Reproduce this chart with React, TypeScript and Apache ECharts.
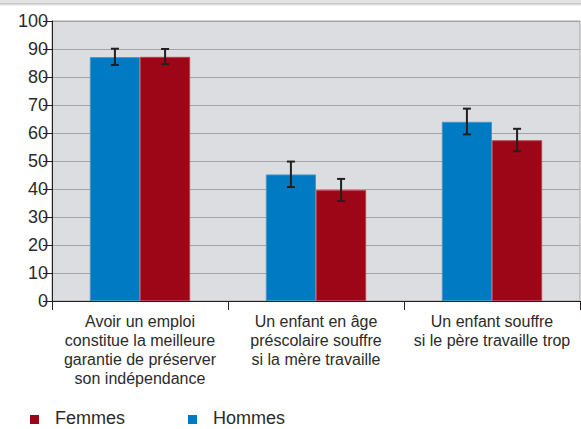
import React, { useEffect, useRef } from "react";
import * as echarts from "echarts";

const categories = [
  "Avoir un emploi\nconstitue la meilleure\ngarantie de préserver\nson indépendance",
  "Un enfant en âge\npréscolaire souffre\nsi la mère travaille",
  "Un enfant souffre\nsi le père travaille trop",
];
const hommes = [87.1, 45.2, 64.0];
const hommesLow = [84.3, 40.7, 59.5];
const hommesHigh = [90.1, 49.8, 68.7];
const femmes = [87.2, 39.6, 57.4];
const femmesLow = [84.6, 35.7, 53.5];
const femmesHigh = [90.0, 43.6, 61.5];
const legendLabels = ["Femmes", "Hommes"];

const BLUE = "#007ac3";
const RED = "#9c0617";
const FONT = "'Liberation Sans', Arial, Helvetica, sans-serif";
const GAP = 0.43;

function errorSeries(name: string, low: number[], high: number[], side: number) {
  return {
    name: name + " err",
    type: "custom",
    z: 10,
    silent: true,
    data: low.map((l, i) => [i, l, high[i]]),
    encode: { x: 0, y: [1, 2] },
    renderItem: (params: any, api: any) => {
      const i = api.value(0);
      const lo = api.coord([i, api.value(1)]);
      const hi = api.coord([i, api.value(2)]);
      const catW = api.size([1, 0])[0];
      const barW = (catW * (1 - GAP)) / 2;
      const x = lo[0] + (side * barW) / 2;
      const cap = 4;
      const style = { stroke: "#231f20", lineWidth: 2 };
      return {
        type: "group",
        children: [
          { type: "line", shape: { x1: x, y1: lo[1], x2: x, y2: hi[1] }, style },
          { type: "line", shape: { x1: x - cap, y1: lo[1], x2: x + cap, y2: lo[1] }, style },
          { type: "line", shape: { x1: x - cap, y1: hi[1], x2: x + cap, y2: hi[1] }, style },
        ],
      };
    },
  };
}

export default function App() {
  const ref = useRef<HTMLDivElement>(null);
  useEffect(() => {
    if (!ref.current) return;
    const chart = echarts.init(ref.current, null, { renderer: "svg" });
    chart.setOption({
      animation: false,
      backgroundColor: "#ffffff",
      textStyle: { fontFamily: FONT },
      grid: {
        left: 52,
        right: 1,
        top: 21,
        bottom: 128,
        show: true,
        backgroundColor: "#dcdde0",
        borderColor: "#a3a3a3",
        borderWidth: 1,
      },
      xAxis: {
        type: "category",
        data: categories,
        axisLine: { lineStyle: { color: "#231f20", width: 1 } },
        axisTick: { show: true, length: 9, alignWithLabel: false, lineStyle: { color: "#231f20" } },
        axisLabel: {
          interval: 0,
          fontSize: 16,
          lineHeight: 19,
          margin: 11,
          color: "#2b2b2b",
          fontFamily: FONT,
        },
        splitLine: { show: false },
      },
      yAxis: {
        type: "value",
        min: 0,
        max: 100,
        interval: 10,
        axisLine: { show: true, lineStyle: { color: "#231f20", width: 1 } },
        axisTick: { show: true, length: 9, lineStyle: { color: "#231f20" } },
        axisLabel: { fontSize: 18, margin: 4, color: "#2b2b2b", fontFamily: FONT },
        splitLine: { show: true, lineStyle: { color: "#a3a3a3", width: 1.2 } },
      },
      legend: { show: false },
      series: [
        {
          name: "Hommes",
          type: "bar",
          data: hommes,
          barGap: "0%",
          barCategoryGap: "43%",
          itemStyle: { color: BLUE, borderColor: "#3a98d2", borderWidth: 1 },
        },
        {
          name: "Femmes",
          type: "bar",
          data: femmes,
          barGap: "0%",
          barCategoryGap: "43%",
          itemStyle: { color: RED, borderColor: "#b8404c", borderWidth: 1 },
        },
        errorSeries("Hommes", hommesLow, hommesHigh, -1),
        errorSeries("Femmes", femmesLow, femmesHigh, 1),
      ],
      graphic: [
        { type: "rect", left: 0, top: 0, shape: { width: 581, height: 3.5 }, style: { fill: "#e3e3e3" } },
        { type: "rect", left: 0, top: 3.5, shape: { width: 581, height: 1 }, style: { fill: "#9a9a9a" } },
        { type: "rect", left: 0, top: 4.5, shape: { width: 581, height: 1.5 }, style: { fill: "#eeeeee" } },
        { type: "rect", left: 30, top: 415, shape: { width: 9, height: 9 }, style: { fill: RED } },
        {
          type: "text",
          left: 55,
          top: 409,
          style: { text: legendLabels[0], fontSize: 18, fontFamily: FONT, fill: "#2b2b2b" },
        },
        { type: "rect", left: 188, top: 415, shape: { width: 9, height: 9 }, style: { fill: BLUE } },
        {
          type: "text",
          left: 213,
          top: 409,
          style: { text: legendLabels[1], fontSize: 18, fontFamily: FONT, fill: "#2b2b2b" },
        },
      ],
    });
    return () => chart.dispose();
  }, []);
  return <div ref={ref} style={{ position: "fixed", left: 0, top: 0, width: 581, height: 429 }} />;
}
